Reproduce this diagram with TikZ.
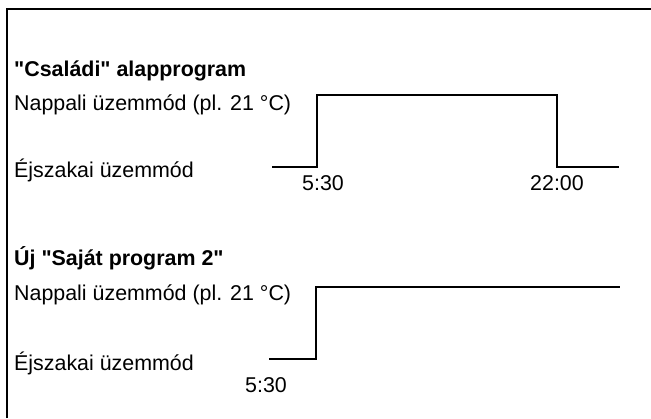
\documentclass[tikz,border=0pt]{standalone}
\usepackage{fontspec}
\setmainfont{Liberation Sans}[Ligatures=TeXOff]
\begin{document}
\begin{tikzpicture}[x=1pt,y=-1pt,
  lbl/.style={anchor=base west,inner sep=0pt,font=\fontsize{21.4}{25}\selectfont},
  hdr/.style={lbl,font=\fontsize{21.4}{25}\selectfont\bfseries},
  tm/.style={anchor=base,inner sep=0pt,font=\fontsize{21.4}{25}\selectfont},
  sig/.style={line width=2pt,line join=miter,line cap=butt},
  frame/.style={line width=2.2pt}]
\useasboundingbox (0,0) rectangle (651,418);
% frame
\draw[frame] (7,418) -- (7,9) -- (651,9);
% section 1
\node[hdr] (h1) at (14,76) {"Családi" alapprogram};
\node[lbl] (n1) at (14,110) {Nappali üzemmód (pl. 21 °C)};
\node[lbl] (e1) at (14,177) {Éjszakai üzemmód};
\node[tm] (t1a) at (323,190) {5:30};
\node[tm] (t1b) at (557,190) {22:00};
\draw[sig] (272,167) -- (317,167) -- (317,95) -- (557,95) -- (557,167) -- (619,167);
% section 2
\node[hdr] (h2) at (14,265) {Új "Saját program 2"};
\node[lbl] (n2) at (14,300) {Nappali üzemmód (pl. 21 °C)};
\node[lbl] (e2) at (14,370) {Éjszakai üzemmód};
\node[tm] (t2a) at (266,392) {5:30};
\draw[sig] (269,359) -- (316,359) -- (316,287) -- (620,287);
\end{tikzpicture}
\end{document}
